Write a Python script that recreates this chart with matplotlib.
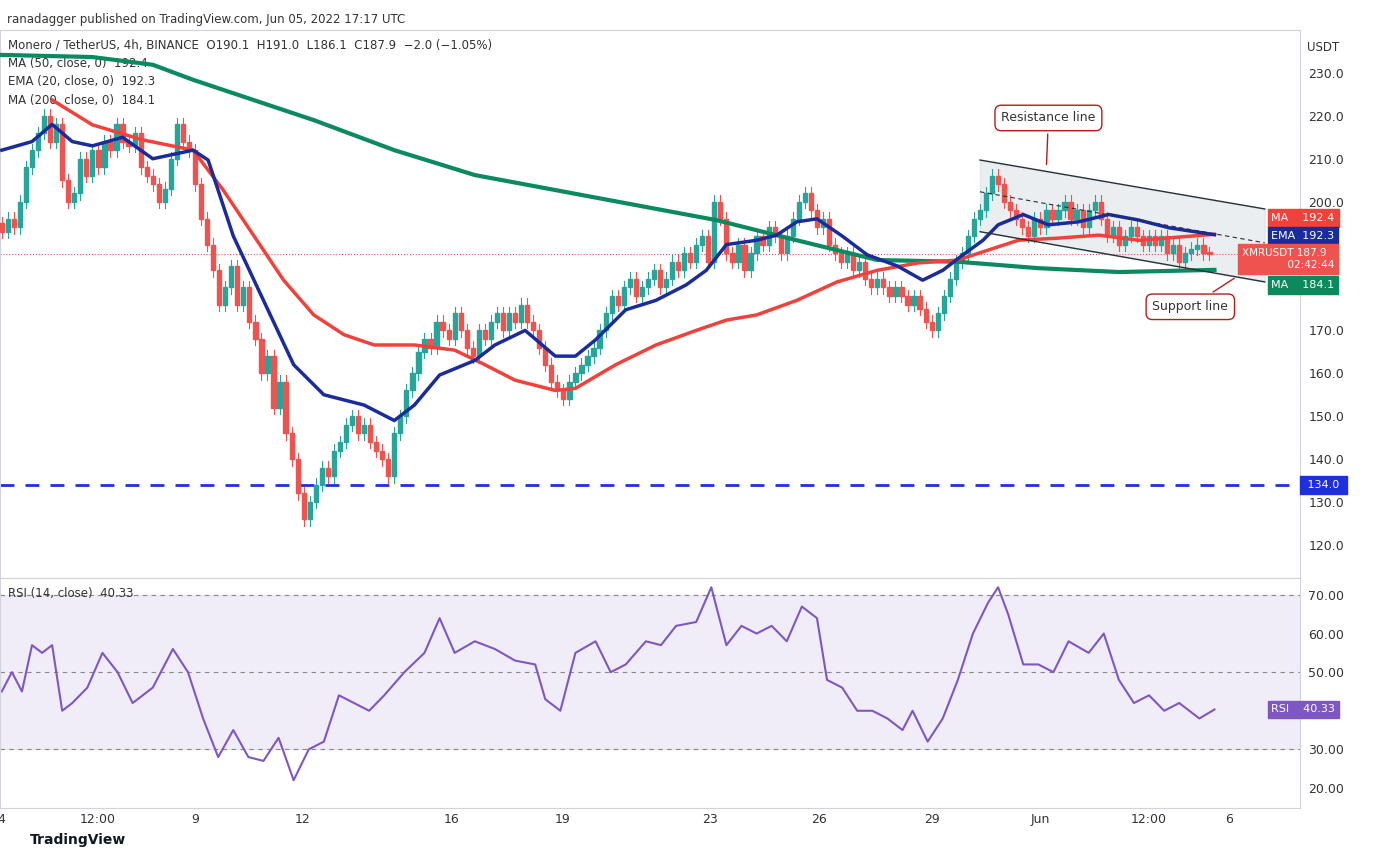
import numpy as np
import matplotlib.pyplot as plt
from matplotlib.patches import Rectangle

# closes, one per 4h candle
closes = [193,196,194,200,208,212,216,220,214,218,
          205,200,202,210,206,212,208,214,212,218,
          214,213,216,208,206,204,200,203,210,218,
          214,212,204,196,190,184,176,180,185,176,
          180,172,168,160,164,152,158,146,140,132,
          126,130,134,138,136,142,144,148,150,146,
          148,144,142,140,136,146,150,156,160,165,
          168,166,172,170,168,174,170,166,164,170,
          168,172,174,170,174,172,176,172,170,166,
          162,158,156,154,158,160,162,164,166,170,
          174,178,176,180,182,178,180,182,184,180,
          182,186,184,188,186,190,192,186,200,196,
          188,186,190,184,188,192,190,194,192,188,
          192,196,200,202,198,194,196,190,188,186,
          188,184,186,182,180,182,180,178,180,178,
          176,178,175,172,170,174,178,182,186,188,
          192,196,198,202,206,204,200,198,196,194,
          192,196,194,198,196,198,200,196,198,194,
          198,200,196,192,194,190,192,194,192,190,
          192,190,192,188,190,186,188,189,190,188,187.9]
first_open = 195

# indicator readings: (pixel x on chart, value)
ema20_px = [10,40,60,80,100,130,160,200,215,240,270,300,330,370,400,420,445,480,500,530,560,580,600,630,
            660,690,710,730,760,780,800,820,845,870,900,925,945,965,985,1000,1025,1050,1080,1110,1140,1170,1215]
ema20 = [212,214,218,214,213,215,210,212,209.7,192,177,162,155,152.6,149,152.6,159.6,163,166.6,170,164,164,
         167.8,174.8,177,180.6,184,190,191,192.2,195.3,196,192,187.6,185,181.7,184,187.6,191,194.6,197,194.6,
         195.3,197,195.7,193.9,192.3]
ma50_px = [60,100,150,200,230,260,290,320,350,380,420,460,490,520,560,580,620,660,700,730,760,800,840,880,
           920,960,990,1020,1060,1100,1140,1215]
ma50 = [223.7,217.9,214.4,212,202.7,192.2,181.7,173.6,169,166.6,166.6,165.4,162,158.4,156,156.5,162,166.6,
        170,172.4,173.6,177,181.3,184,185.7,186.4,188.7,191,191.5,192.2,191,192.4]
ma200_px = [10,100,160,200,260,320,400,480,560,640,720,800,880,960,1040,1120,1215]
ma200 = [234.2,233.7,231.9,228.4,223.7,219,212,206.2,202.7,199.2,195.7,191,186.4,186,184.5,183.6,184.1]
rsi_px = [10,20,30,40,50,60,70,80,95,110,125,140,160,180,195,210,225,240,255,270,285,300,315,330,345,360,
          375,390,410,430,445,460,480,500,520,540,550,565,580,600,615,630,650,665,680,700,715,730,745,760,
          775,790,805,820,830,845,860,875,890,905,915,930,945,960,975,990,1000,1010,1025,1040,1055,1070,
          1090,1105,1120,1135,1150,1165,1180,1200,1215]
rsi = [45,50,45,57,55,57,40,42,46,55,50,42,46,56,50,38,28,35,28,27,33,22,30,32,44,42,
       40,44,50,55,64,55,58,56,53,52,43,40,55,58,50,52,58,57,62,63,72,57,62,60,
       62,58,67,64,48,46,40,40,38,35,40,32,38,48,60,68,72,65,52,52,50,58,
       55,60,48,42,44,40,42,38,40.33]

tick_pos = [0, 15.8, 32, 49.8, 74.5, 92.8, 117.3, 135.3, 154, 172, 190, 203.3]
tick_lab = ['4', '12:00', '9', '12', '16', '19', '23', '26', '29', 'Jun', '12:00', '6']

def px2i(p):
    return (np.array(p) - 10) / 6.0

UP, DN = '#26a69a', '#ef5350'
fig = plt.figure(figsize=(13.77, 8.57), dpi=100)
W = 1300 / 1377
ax = fig.add_axes([0, 1 - 578 / 857, W, (578 - 30) / 857])
ax2 = fig.add_axes([0, 1 - 808 / 857, W, (808 - 578) / 857], sharex=ax)

opens = [first_open] + closes[:-1]
for i, (o, c) in enumerate(zip(opens, closes)):
    col = UP if c >= o else DN
    hi, lo = max(o, c) + 1.5, min(o, c) - 1.5
    ax.plot([i, i], [lo, hi], color=col, lw=0.8, zorder=3)
    ax.add_patch(Rectangle((i - 0.35, min(o, c)), 0.7, max(abs(c - o), 0.3), color=col, zorder=4))

ax.plot(px2i(ma200_px), ma200, color='#0b8a5e', lw=3, zorder=5)
ax.plot(px2i(ma50_px), ma50, color='#f0423a', lw=2.5, zorder=5)
ax.plot(px2i(ema20_px), ema20, color='#1a2c9c', lw=2.5, zorder=5)

# channel
cx = px2i([982, 1265])
res = [209.7, 198.3]; mid = [202.3, 190.4]; sup = [193.0, 181.3]
ax.fill_between(cx, sup, res, color='#b0bec5', alpha=0.25, zorder=1)
ax.plot(cx, res, color='#263238', lw=1, zorder=6)
ax.plot(cx, sup, color='#263238', lw=1, zorder=6)
ax.plot(cx, mid, color='#263238', lw=0.8, ls=(0, (4, 3)), zorder=6)

ax.axhline(134, color='#1e2fe0', lw=2, ls=(0, (5, 4)), zorder=2)
ax.axhline(187.9, color=DN, lw=0.8, ls=':', zorder=2)

box = dict(boxstyle='round,pad=0.5', fc='white', ec='#b71c1c', lw=1)
ax.annotate('Resistance line', xy=(px2i(1048), 208), xytext=(px2i(1050), 219.5), fontsize=9,
            ha='center', va='center', bbox=box, color='#333',
            arrowprops=dict(arrowstyle='-', color='#b71c1c', lw=1))
ax.annotate('Support line', xy=(px2i(1237), 182.5), xytext=(px2i(1191), 175.5), fontsize=9,
            ha='center', va='center', bbox=box, color='#333',
            arrowprops=dict(arrowstyle='-', color='#b71c1c', lw=1))

ax.set_ylim(112.3, 240.0)
ax.set_xlim(-0.3, 215)
ax.yaxis.tick_right()
yt = [120, 130, 140, 150, 160, 170, 200, 210, 220, 230]
ax.set_yticks(yt)
ax.set_yticklabels([f'{v:.1f}' for v in yt])
ax.tick_params(axis='y', length=0, labelsize=9, colors='#333', pad=6)
ax.tick_params(axis='x', length=0, labelbottom=False)

def tag(a, y, text, col, fs=8, x=0.978):
    a.text(x, y, text, transform=a.get_yaxis_transform(), ha='left', va='center', fontsize=fs,
           color='white', linespacing=1.3, zorder=10,
           bbox=dict(boxstyle='square,pad=0.35', fc=col, ec=col))

tag(ax, 196.2, 'MA    192.4', '#f0423a')
tag(ax, 192.0, 'EMA  192.3', '#1a2c9c')
tag(ax, 186.6, 'XMRUSDT 187.9\n              02:42:44', DN, fs=7.5, x=0.955)
tag(ax, 180.6, 'MA    184.1', '#0b8a5e')
tag(ax, 134.0, ' 134.0 ', '#1e2fe0', x=1.003)

ax.text(0.006, 0.985, 'Monero / TetherUS, 4h, BINANCE  O190.1  H191.0  L186.1  C187.9  −2.0 (−1.05%)',
        transform=ax.transAxes, fontsize=8.5, va='top', color='#333')
for k, s in enumerate(['MA (50, close, 0)  192.4', 'EMA (20, close, 0)  192.3', 'MA (200, close, 0)  184.1']):
    ax.text(0.006, 0.951 - k * 0.034, s, transform=ax.transAxes, fontsize=8.5, va='top', color='#333')

# RSI
ax2.axhspan(30, 70, color='#7e57c2', alpha=0.1)
for v in (30, 50, 70):
    ax2.axhline(v, color='#888', lw=0.8, ls=(0, (4, 4)))
ax2.plot(px2i(rsi_px), rsi, color='#7e57c2', lw=1.5)
ax2.set_ylim(14.8, 74.4)
ax2.yaxis.tick_right()
ax2.set_yticks([20, 30, 50, 60, 70])
ax2.set_yticklabels(['20.00', '30.00', '50.00', '60.00', '70.00'])
ax2.tick_params(axis='y', length=0, labelsize=9, colors='#333', pad=6)
ax2.set_xticks(tick_pos)
ax2.set_xticklabels(tick_lab)
ax2.tick_params(axis='x', length=0, labelsize=9, colors='#333')
tag(ax2, 40.33, 'RSI    40.33', '#7e57c2')
ax2.text(0.006, 0.96, 'RSI (14, close)  40.33', transform=ax2.transAxes, fontsize=8.5, va='top', color='#333')

for a in (ax, ax2):
    for s in a.spines.values():
        s.set_color('#d0d3db')
    a.grid(False)

fig.text(0.005, 0.985, 'ranadagger published on TradingView.com, Jun 05, 2022 17:17 UTC',
         fontsize=8.5, va='top', color='#333')
fig.text(W + 0.005, 0.952, 'USDT', fontsize=8.5, va='top', color='#333')
fig.text(0.022, 0.012, 'TradingView', fontsize=10, va='bottom', color='#131722', weight='bold')

fig.savefig('out.png', dpi=100)
